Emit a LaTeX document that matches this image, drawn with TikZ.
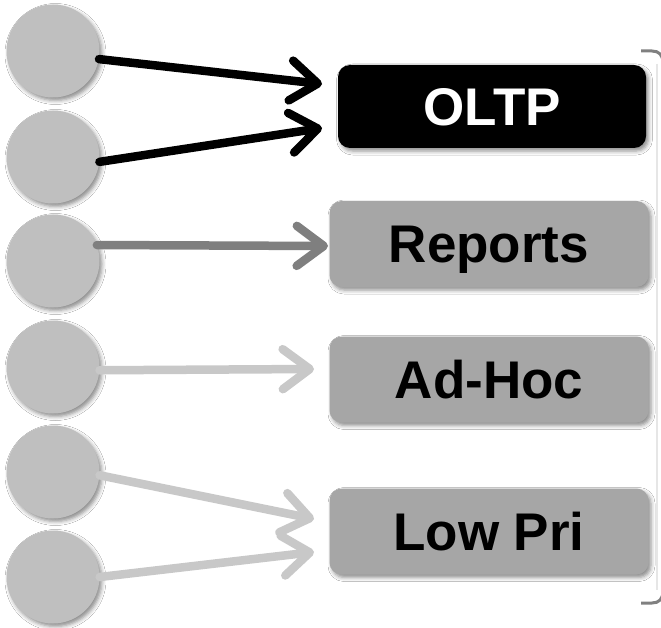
\documentclass[tikz,border=0pt]{standalone}
\usepackage{fontspec}
\setmainfont{Liberation Sans}
\usetikzlibrary{arrows.meta,shadows.blur}

\definecolor{srcgray}{HTML}{BFBFBF}
\definecolor{boxgray}{HTML}{A6A6A6}
\definecolor{midgray}{HTML}{7F7F7F}
\definecolor{lightgray}{HTML}{C8C8C8}
\definecolor{bracegray}{HTML}{808080}
\definecolor{traceline}{HTML}{E6E6E6}

\tikzset{
  softshadow/.style={blur shadow={shadow xshift=2.5pt, shadow yshift=-3pt,
      shadow blur radius=4pt, shadow opacity=45}},
  source/.style={circle, fill=srcgray, minimum size=93pt, inner sep=0pt, softshadow},
  queue/.style={rounded corners=12pt, fill=boxgray, minimum width=319pt,
      minimum height=86pt, inner sep=0pt, text height=38pt, text depth=0pt,
      font=\bfseries\fontsize{53}{53}\selectfont, softshadow},
  flow/.style={line width=8.5pt, line cap=round,
      -{Straight Barb[length=27pt, width=40pt, line cap=round, line join=round]}},
  brace/.style={draw=bracegray, line width=3pt},
}

\begin{document}
\begin{tikzpicture}[x=1pt, y=-1pt]
  \useasboundingbox (0,0) rectangle (661,628);
  \fill[white] (0,0) rectangle (661,628);
  \clip (0,0) rectangle (661,628);

  % client sources
  \node[source] (c1) at (53,51) {};
  \node[source] (c2) at (53,157) {};
  \node[source] (c3) at (53,261) {};
  \node[source] (c4) at (53,367) {};
  \node[source] (c5) at (53,472) {};
  \node[source] (c6) at (53,577) {};

  % workload classes
  \node[queue, fill=black, text=white, minimum width=308pt, minimum height=83pt]
       (oltp) at (492,106.5) {OLTP};
  \node[queue] (reports) at (489,244) {Reports};
  \node[queue] (adhoc) at (489,379.5) {Ad-Hoc};
  \node[queue] (lowpri) at (489,531.5) {Low Pri};

  % arrow tips, just short of each box
  \coordinate (t1) at (322,84);
  \coordinate (t2) at (322,128);
  \coordinate (t3) at (328,246);
  \coordinate (t4) at (314,369);
  \coordinate (t5) at (314,519);
  \coordinate (t6) at (314,552);

  \draw[flow, black]     (c1.-10) -- (t1);
  \draw[flow, black]     (c2.-6)  -- (t2);
  \draw[flow, midgray]   (c3.20)  -- (t3);
  \draw[flow, lightgray] (c4.-4)  -- (t4);
  \draw[flow, lightgray] (c5.-4)  -- (t5);
  \draw[flow, lightgray] (c6.0)   -- (t6);

  % grouping bracket on the right, its upright running just past the edge
  \draw[traceline, line width=1.5pt] (657,64) -- (657,590);
  \draw[brace] (641,51) -- (652,51) .. controls (659,51) and (663,55) .. (663,63)
     -- (663,591) .. controls (663,599) and (659,603) .. (652,603) -- (641,603);
\end{tikzpicture}
\end{document}
